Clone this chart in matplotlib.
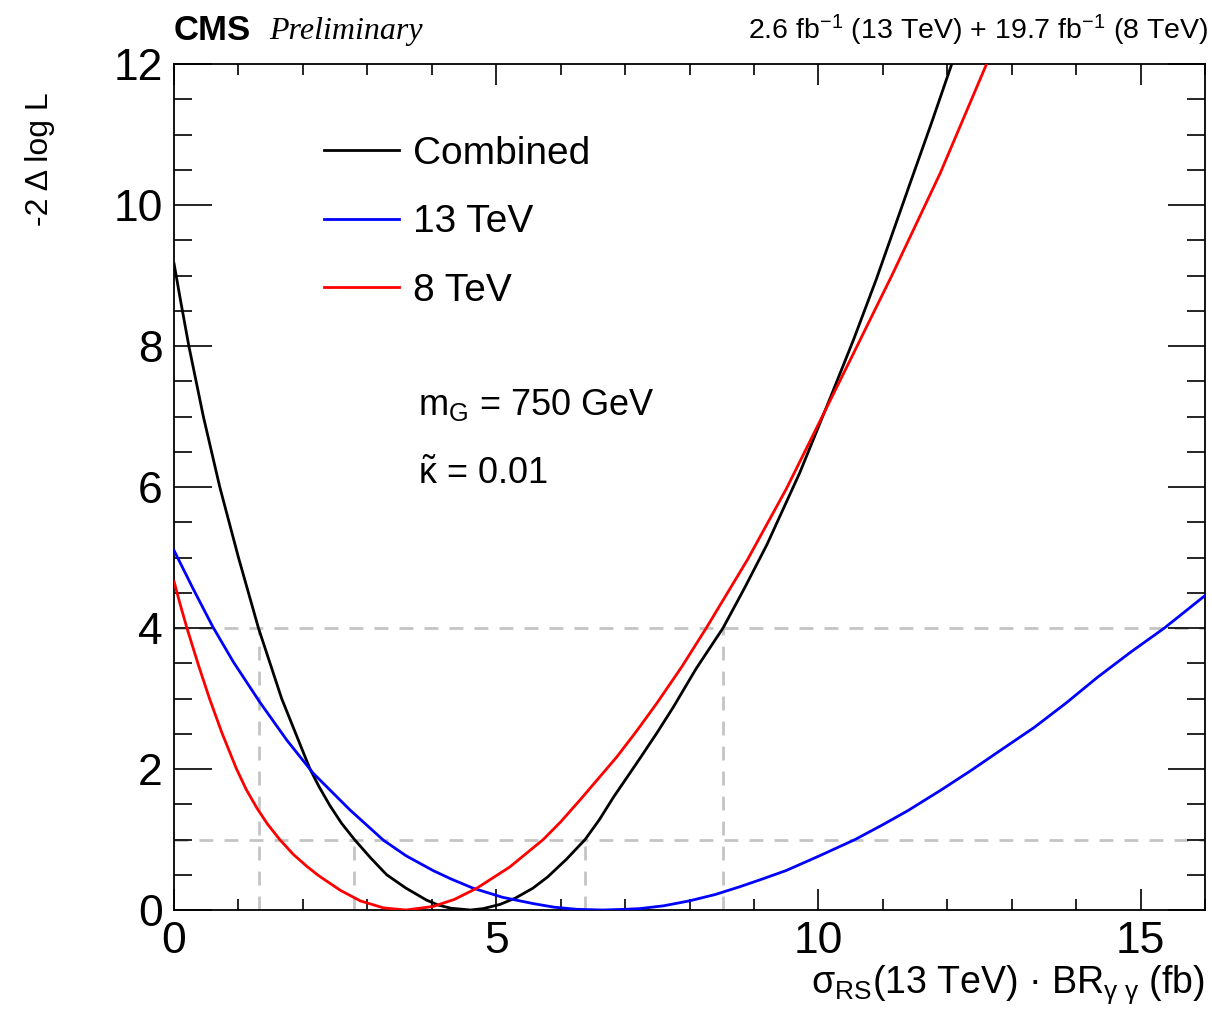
"""Profile likelihood scan, CMS diphoton 750 GeV RS graviton combination."""
import matplotlib
matplotlib.use("Agg")
import matplotlib.pyplot as plt
from matplotlib.ticker import MultipleLocator

plt.rcParams["font.family"] = ["Liberation Sans", "DejaVu Sans"]
plt.rcParams["mathtext.fontset"] = "custom"
plt.rcParams["mathtext.rm"] = "Liberation Sans"
plt.rcParams["mathtext.it"] = "Liberation Sans:italic"
plt.rcParams["mathtext.default"] = "regular"

# values
combined_x = [0.00, 0.10, 0.23, 0.455, 0.71, 1.00, 1.31, 1.49, 1.67, 1.89, 2.11, 2.25,
              2.42, 2.60, 2.80, 3.05, 3.30, 3.60, 3.92, 4.10, 4.30, 4.60, 4.80, 5.06,
              5.30, 5.57, 5.80, 6.09, 6.38, 6.60, 6.82, 7.23, 7.50, 7.75, 8.10, 8.52,
              8.85, 9.20, 9.71, 10.20, 10.55, 10.90, 11.42, 11.75, 12.07]
combined_y = [9.17, 8.65, 8.00, 7.00, 6.00, 5.00, 4.00, 3.50, 3.00, 2.50, 2.00, 1.75,
              1.48, 1.23, 1.00, 0.74, 0.50, 0.31, 0.14, 0.07, 0.025, 0.00, 0.02, 0.08,
              0.17, 0.31, 0.47, 0.72, 1.00, 1.28, 1.60, 2.15, 2.52, 2.88, 3.42, 4.00,
              4.56, 5.18, 6.20, 7.30, 8.10, 8.95, 10.30, 11.15, 12.00]

tev13_x = [0.00, 0.30, 0.60, 0.92, 1.33, 1.75, 2.16, 2.73, 3.25, 3.60, 4.02, 4.30,
           4.64, 5.10, 5.58, 5.90, 6.25, 6.65, 7.00, 7.23, 7.60, 8.00, 8.40, 8.78,
           9.10, 9.50, 10.02, 10.57, 11.00, 11.39, 11.90, 12.37, 12.85, 13.35, 13.85,
           14.33, 14.85, 15.37, 16.00]
tev13_y = [5.10, 4.55, 4.02, 3.52, 2.95, 2.41, 1.94, 1.42, 0.99, 0.77, 0.56, 0.44,
           0.31, 0.18, 0.09, 0.04, 0.01, 0.00, 0.01, 0.02, 0.06, 0.13, 0.22, 0.33,
           0.43, 0.56, 0.77, 1.00, 1.21, 1.41, 1.70, 1.98, 2.28, 2.59, 2.94,
           3.30, 3.66, 4.00, 4.46]

tev8_x = [0.00, 0.10, 0.20, 0.38, 0.55, 0.74, 0.97, 1.12, 1.29, 1.45, 1.64, 1.85,
          2.06, 2.24, 2.58, 2.89, 3.25, 3.60, 4.02, 4.35, 4.70, 5.21, 5.73, 6.00,
          6.30, 6.87, 7.18, 7.49, 7.88, 8.26, 8.90, 9.50, 9.87, 10.52, 11.14, 11.89,
          12.61]
tev8_y = [4.66, 4.32, 4.00, 3.47, 3.00, 2.52, 2.00, 1.71, 1.44, 1.22, 1.00, 0.79,
          0.62, 0.49, 0.28, 0.13, 0.03, 0.00, 0.05, 0.15, 0.31, 0.61, 1.00, 1.25,
          1.56, 2.17, 2.54, 2.93, 3.45, 4.00, 4.97, 5.97, 6.65, 7.85, 9.00, 10.45,
          12.00]

# 68% / 95% reference levels and the combined-curve crossings
levels = [1.0, 4.0]
crossings = [(1.32, 4.0), (2.80, 1.0), (6.38, 1.0), (8.52, 4.0)]

series = [
    ("Combined", combined_x, combined_y, "black"),
    ("13 TeV", tev13_x, tev13_y, "#0000ff"),
    ("8 TeV", tev8_x, tev8_y, "#ff0000"),
]

fig = plt.figure(figsize=(12.12, 10.17), dpi=100)
ax = fig.add_axes([0.1436, 0.1052, 0.8506, 0.8318])

grey = "#c4c4c4"
for level in levels:
    ax.axhline(level, color=grey, lw=2.0, ls=(0, (5, 4)), zorder=1)
for xc, yc in crossings:
    ax.plot([xc, xc], [0, yc], color=grey, lw=2.0, ls=(0, (5, 4)), zorder=1)

handles = []
for label, xs, ys, color in series:
    (line,) = ax.plot(xs, ys, color=color, lw=2.0, label=label, zorder=3)
    handles.append(line)

ax.set_xlim(0, 16)
ax.set_ylim(0, 12)
ax.xaxis.set_major_locator(MultipleLocator(5))
ax.xaxis.set_minor_locator(MultipleLocator(1))
ax.yaxis.set_major_locator(MultipleLocator(2))
ax.yaxis.set_minor_locator(MultipleLocator(0.5))
ax.tick_params(axis="both", which="both", direction="in", top=True, right=True,
               width=1.2, labelsize=32)
ax.tick_params(axis="x", which="major", length=15, pad=8)
ax.tick_params(axis="x", which="minor", length=8)
ax.tick_params(axis="y", which="major", length=27, pad=8)
ax.tick_params(axis="y", which="minor", length=13)
for spine in ax.spines.values():
    spine.set_linewidth(1.3)

ax.legend(handles=handles, loc="upper left", bbox_to_anchor=(0.145, 0.915),
          frameon=False, fontsize=28, handlelength=1.93, handletextpad=0.37,
          labelspacing=0.83, borderpad=0, borderaxespad=0)

ax.text(0.237, 0.597, r"m$_{G}$ = 750 GeV", transform=ax.transAxes,
        fontsize=26, va="center", ha="left")
ax.text(0.237, 0.515, r"$\tilde{\kappa}$ = 0.01", transform=ax.transAxes,
        fontsize=26, va="center", ha="left")

fig.text(174 / 1212, 1 - 30 / 1017, "CMS", fontsize=25, fontweight="bold",
         ha="left", va="center")
fig.text(269 / 1212, 1 - 31 / 1017, "Preliminary", fontsize=23, style="italic",
         family="Liberation Serif", ha="left", va="center")
fig.text(1208 / 1212, 1 - 30 / 1017,
         r"2.6 fb$^{-1}$ (13 TeV) + 19.7 fb$^{-1}$ (8 TeV)",
         fontsize=20.5, ha="right", va="center")

fig.text(1205 / 1212, 1 - 985 / 1017,
         r"σ$_{RS}$(13 TeV) · BR$_{γ\ γ}$ (fb)",
         fontsize=27, ha="right", va="center")
fig.text(40 / 1212, 1 - 92 / 1017, "-2 Δ log L", fontsize=23, rotation=90,
         ha="center", va="top")

fig.savefig("out.png", dpi=100, facecolor="white")
